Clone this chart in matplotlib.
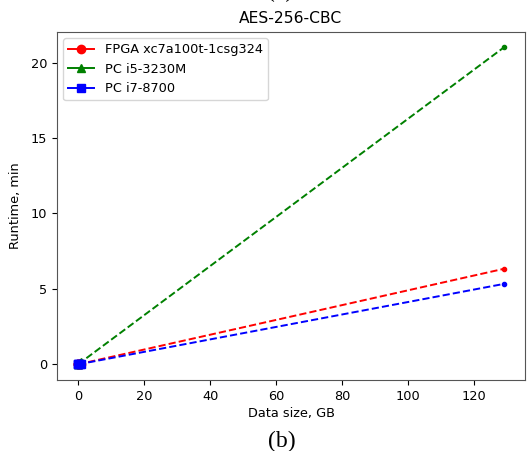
import matplotlib
matplotlib.use("Agg")
import matplotlib.pyplot as plt

# Measured small data sizes (GB) and runtimes (min)
small_sizes = [0.001, 0.01, 0.1, 0.5, 1.0]
fpga_small = [0.0, 0.0, 0.001, 0.02, 0.05]
i5_small = [0.0, 0.002, 0.016, 0.08, 0.16]
i7_small = [0.0, 0.0, 0.004, 0.02, 0.04]

# Extrapolated line endpoints
extrap_sizes = [0, 129]
fpga_extrap = [0, 6.33]
i5_extrap = [0, 21.0]
i7_extrap = [0, 5.33]

labels = ["FPGA xc7a100t-1csg324", "PC i5-3230M", "PC i7-8700"]
colors = ["red", "green", "blue"]
markers = ["o", "^", "s"]

fig = plt.figure(figsize=(5.31, 4.51), dpi=100)
ax = fig.add_axes([0.107, 0.157, 0.882, 0.773])

for ye, c in zip([fpga_extrap, i5_extrap, i7_extrap], colors):
    ax.plot(extrap_sizes, ye, color=c, linestyle="--", linewidth=1.4,
            marker=".", markersize=6, markevery=[1])
for ys, lab, c, m in zip([fpga_small, i5_small, i7_small], labels, colors, markers):
    ax.plot(small_sizes, ys, color=c, marker=m, markersize=6, linewidth=1.4, label=lab)

ax.set_xlim(-6.45, 135.45)
ax.set_ylim(-1.05, 22.05)
ax.set_xticks([0, 20, 40, 60, 80, 100, 120])
ax.set_yticks([0, 5, 10, 15, 20])
ax.tick_params(labelsize=9.3, length=3.5)
ax.set_xlabel("Data size, GB", fontsize=9.3, labelpad=3)
ax.set_ylabel("Runtime, min", fontsize=9.3, labelpad=6)
ax.set_title("AES-256-CBC", fontsize=11.2, pad=6.5)
for s in ax.spines.values():
    s.set_color("#555555")
ax.legend(loc="upper left", fontsize=9.3, borderaxespad=0.5)

fig.text(0.527, 1.018, "(a)", ha="center", va="center", fontsize=17,
         family="Liberation Serif")
fig.text(0.531, 0.022, "(b)", ha="center", va="center", fontsize=17,
         family="Liberation Serif")

fig.savefig("out.png", dpi=100)
